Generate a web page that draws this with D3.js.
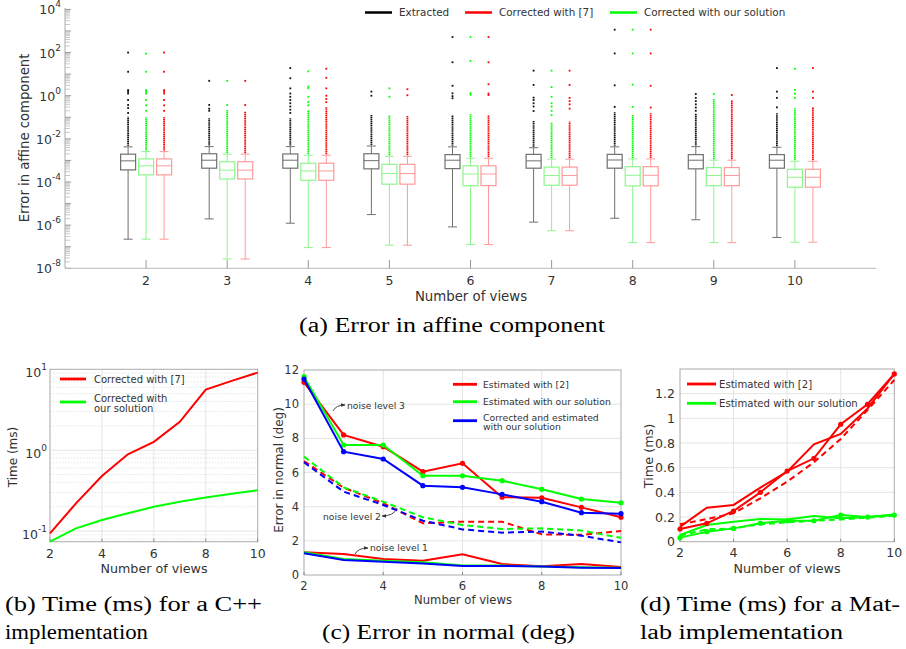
<!DOCTYPE html>
<html>
<head>
<meta charset="utf-8">
<script src="https://cdn.jsdelivr.net/npm/d3@7"></script>
<style>
  body { margin: 0; background: #fff; }
  text { font-family: "DejaVu Sans", sans-serif; fill: #333; }
  .cap { font-family: "Liberation Serif", serif; fill: #000; }
</style>
</head>
<body>
<svg id="fig" width="906" height="649"></svg>
<script>
// ---------- data ----------
const views = [2, 3, 4, 5, 6, 7, 8, 9, 10];

// (a) box plots, values are log10 of the error
const extWhiskerHigh = [-2.37, -2.36, -2.36, -2.33, -2.37, -2.41, -2.37, -2.36, -2.39];
const extQ3 = [-2.71, -2.69, -2.70, -2.69, -2.73, -2.72, -2.72, -2.73, -2.73];
const extMedian = [-3.02, -2.99, -2.99, -3.01, -2.99, -3.02, -2.98, -2.99, -2.99];
const extQ1 = [-3.44, -3.36, -3.36, -3.39, -3.38, -3.36, -3.36, -3.39, -3.36];
const extWhiskerLow = [-6.65, -5.71, -5.91, -5.51, -6.08, -5.86, -5.68, -5.75, -6.57];
const extDenseTop = [-0.97, -1.05, -1.04, -0.89, -0.89, -1.17, -0.74, -0.81, -0.81];
const extOutliers = [
  [2.0, 1.11, 0.26, 0.18, 0.1, -0.2, -0.43, -0.57, -0.8],
  [0.69, -0.43, -0.6, -0.7],
  [1.28, 0.81, 0.34, 0.1, -0.05, -0.2, -0.35, -0.5, -0.65, -0.8],
  [0.19, 0.0],
  [2.72, 1.55, 0.46, 0.11, -0.02, -0.12],
  [1.16, 0.5, -0.09, -0.2, -0.35, -0.5, -0.71],
  [3.06, 1.96, 0.48, -0.52],
  [0.08, -0.1, -0.25, -0.4, -0.55, -0.7],
  [1.28, 0.19, -0.1, -0.54]
];

const oursWhiskerHigh = [-2.59, -2.71, -2.76, -2.81, -2.90, -2.94, -2.93, -2.99, -3.04];
const oursQ3 = [-2.93, -3.06, -3.13, -3.18, -3.25, -3.31, -3.29, -3.33, -3.41];
const oursMedian = [-3.25, -3.45, -3.49, -3.61, -3.63, -3.70, -3.69, -3.70, -3.78];
const oursQ1 = [-3.67, -3.86, -3.92, -4.10, -4.17, -4.15, -4.18, -4.17, -4.24];
const oursWhiskerLow = [-6.65, -7.57, -7.04, -6.93, -6.90, -6.26, -6.81, -6.81, -6.79];
const oursDenseTop = [-1.0, -0.66, -0.66, -0.89, -0.86, -1.25, -0.89, -0.15, -0.58];
const oursOutliers = [
  [1.95, 1.11, 0.26, 0.18, 0.1, -0.2, -0.45, -0.7],
  [0.69, -0.43],
  [1.13, 0.42, 0.35, -0.05, -0.3, -0.45],
  [0.34, -0.05],
  [2.72, 1.61, 0.12, 0.05],
  [1.16, 0.4, -0.05, -0.35, -0.5, -0.7, -0.9],
  [3.06, 1.96, 0.51, -0.52],
  [0.08],
  [1.25, 0.27, 0.1, -0.1]
];

const refWhiskerHigh = [-2.59, -2.71, -2.76, -2.81, -2.90, -2.94, -2.93, -2.99, -3.04];
const refQ3 = [-2.93, -3.06, -3.13, -3.18, -3.25, -3.31, -3.29, -3.33, -3.41];
const refMedian = [-3.25, -3.45, -3.49, -3.61, -3.63, -3.70, -3.69, -3.70, -3.78];
const refQ1 = [-3.67, -3.86, -3.92, -4.10, -4.17, -4.15, -4.18, -4.17, -4.24];
const refWhiskerLow = [-6.65, -7.57, -7.04, -6.93, -6.90, -6.26, -6.81, -6.81, -6.79];
const refDenseTop = [-1.0, -0.74, -0.51, -0.94, -0.89, -1.2, -0.81, -0.2, -0.54];
const refOutliers = [
  [2.0, 1.11, 0.26, 0.18, 0.1, -0.2, -0.45, -0.7],
  [0.69, -0.43],
  [1.25, 0.83, 0.34, 0.0, -0.15, -0.3],
  [0.3, 0.02],
  [2.72, 1.55, 0.53, 0.1, 0.03],
  [1.16, 0.5, -0.1, -0.25, -0.4, -0.6],
  [3.06, 1.96, 0.46, -0.55],
  [0.03],
  [1.28, 0.19, -0.1]
];

// (b) C++ timing (ms)
const cppRef = [0.094, 0.22, 0.48, 0.89, 1.27, 2.24, 5.6, 7.2, 9.1];
const cppOurs = [0.074, 0.108, 0.137, 0.166, 0.20, 0.23, 0.26, 0.29, 0.32];

// (c) error in normal (deg)
const n3Ref = [11.28, 8.2, 7.51, 6.05, 6.54, 4.55, 4.52, 3.96, 3.38];
const n3Ours = [11.61, 7.61, 7.61, 5.81, 5.81, 5.52, 5.02, 4.45, 4.23];
const n3Corr = [11.47, 7.22, 6.79, 5.23, 5.13, 4.72, 4.29, 3.65, 3.59];
const n2Ref = [6.67, 5.11, 4.2, 3.03, 3.12, 3.12, 2.38, 2.35, 2.58];
const n2Ours = [6.93, 5.13, 4.29, 3.38, 2.93, 2.69, 2.73, 2.6, 2.18];
const n2Corr = [6.6, 4.88, 4.1, 3.18, 2.67, 2.48, 2.54, 2.3, 1.91];
const n1Ref = [1.33, 1.23, 0.94, 0.84, 1.21, 0.64, 0.51, 0.64, 0.47];
const n1Ours = [1.33, 0.94, 0.84, 0.74, 0.55, 0.55, 0.5, 0.45, 0.43];
const n1Corr = [1.27, 0.88, 0.78, 0.68, 0.53, 0.53, 0.5, 0.43, 0.41];

// (d) Matlab timing (ms)
const matRefA = [0.103, 0.149, 0.249, 0.40, 0.573, 0.676, 0.952, 1.114, 1.36];
const matRefB = [0.12, 0.276, 0.298, 0.438, 0.568, 0.79, 0.874, 1.08, 1.36];
const matRefC = [0.141, 0.184, 0.23, 0.352, 0.487, 0.644, 0.833, 1.068, 1.311];
const matOursA = [0.033, 0.081, 0.108, 0.15, 0.17, 0.17, 0.216, 0.20, 0.216];
const matOursB = [0.054, 0.135, 0.162, 0.184, 0.18, 0.208, 0.19, 0.20, 0.22];
const matOursC = [0.05, 0.10, 0.108, 0.141, 0.157, 0.17, 0.18, 0.195, 0.21];

const RED = "#ff0000", GREEN = "#00ff00", BLUE = "#0000ff";

const svg = d3.select("#fig");

////////////////////////
/// (a) BOX PLOTS ///
////////////////////////
const xA = d3.scaleLinear().domain([1, 11]).range([65, 876]);
const yA = d3.scaleLog().domain([1e-8, 1e4]).range([268.3, 9.4]);
const pA = e => yA(Math.pow(10, e));

const gA = svg.append("g");

// minor + major ticks on the y axis
const minorA = [];
for (let d = -8; d < 4; d++) for (let k = 2; k <= 9; k++) minorA.push(k * Math.pow(10, d));
gA.selectAll(".minA").data(minorA).enter().append("line")
  .attr("x1", 65).attr("x2", 70)
  .attr("y1", d => yA(d)).attr("y2", d => yA(d))
  .attr("stroke", "#bbb").attr("stroke-width", 0.8);
gA.selectAll(".majA").data(d3.range(-8, 5)).enter().append("line")
  .attr("x1", 65).attr("x2", 71)
  .attr("y1", d => pA(d)).attr("y2", d => pA(d))
  .attr("stroke", "#999");

gA.append("line").attr("x1", 65).attr("x2", 65).attr("y1", 8).attr("y2", 268.3).attr("stroke", "#aaa");
gA.append("line").attr("x1", 65).attr("x2", 876).attr("y1", 268.3).attr("y2", 268.3).attr("stroke", "#bbb");

const yLabA = gA.selectAll(".ylabA").data([-8, -6, -4, -2, 0, 2, 4]).enter().append("text")
  .attr("x", 61).attr("y", d => pA(d) + 5)
  .attr("text-anchor", "end").style("font-size", "12.5px");
yLabA.append("tspan").text("10");
yLabA.append("tspan").attr("dy", -7).style("font-size", "9px").text(d => d);

gA.selectAll(".xtA").data(views).enter().append("line")
  .attr("x1", d => xA(d)).attr("x2", d => xA(d))
  .attr("y1", 268.3).attr("y2", 260).attr("stroke", "#999");
gA.selectAll(".xlabA").data(views).enter().append("text")
  .attr("x", d => xA(d)).attr("y", 284.5)
  .attr("text-anchor", "middle").style("font-size", "12.5px").text(d => d);

gA.append("text").attr("x", 471).attr("y", 301).attr("text-anchor", "middle")
  .style("font-size", "13.3px").text("Number of views");
gA.append("text").attr("transform", "translate(29,138) rotate(-90)").attr("text-anchor", "middle")
  .style("font-size", "13.2px").text("Error in affine component");

function drawBoxes(wHigh, q3, med, q1, wLow, denseTop, outliers, offset, boxColor, dotColor) {
  const g = gA.append("g");
  views.forEach((v, i) => {
    const cx = xA(v) + offset, w = 15, cap = 4.5;
    g.append("line").attr("x1", cx).attr("x2", cx).attr("y1", pA(wHigh[i])).attr("y2", pA(q3[i]))
      .attr("stroke", boxColor);
    g.append("line").attr("x1", cx).attr("x2", cx).attr("y1", pA(q1[i])).attr("y2", pA(wLow[i]))
      .attr("stroke", boxColor);
    [wHigh[i], wLow[i]].forEach(e => {
      g.append("line").attr("x1", cx - cap).attr("x2", cx + cap).attr("y1", pA(e)).attr("y2", pA(e))
        .attr("stroke", boxColor);
    });
    g.append("rect").attr("x", cx - w / 2).attr("width", w)
      .attr("y", pA(q3[i])).attr("height", pA(q1[i]) - pA(q3[i]))
      .attr("fill", "none").attr("stroke", boxColor).attr("stroke-width", 1.2);
    g.append("line").attr("x1", cx - w / 2).attr("x2", cx + w / 2)
      .attr("y1", pA(med[i])).attr("y2", pA(med[i])).attr("stroke", boxColor);
    // densely packed outliers just above the upper whisker
    g.append("line").attr("x1", cx).attr("x2", cx)
      .attr("y1", pA(wHigh[i]) - 1).attr("y2", pA(denseTop[i]))
      .attr("stroke", dotColor).attr("stroke-width", 1.8).attr("stroke-dasharray", "1.4,0.5");
    g.selectAll(null).data(outliers[i]).enter().append("rect")
      .attr("x", cx - 0.9).attr("y", d => pA(d) - 0.9).attr("width", 1.8).attr("height", 1.8)
      .attr("fill", dotColor);
  });
}
drawBoxes(extWhiskerHigh, extQ3, extMedian, extQ1, extWhiskerLow, extDenseTop, extOutliers, -18, "#707070", "#111");
drawBoxes(oursWhiskerHigh, oursQ3, oursMedian, oursQ1, oursWhiskerLow, oursDenseTop, oursOutliers, 0, "#8ef58e", GREEN);
drawBoxes(refWhiskerHigh, refQ3, refMedian, refQ1, refWhiskerLow, refDenseTop, refOutliers, 18, "#ff9a9a", RED);

// legend (a)
const legA = [
  {label: "Extracted", color: "#000", x: 365},
  {label: "Corrected with [7]", color: RED, x: 465},
  {label: "Corrected with our solution", color: GREEN, x: 610}
];
legA.forEach(d => {
  gA.append("line").attr("x1", d.x).attr("x2", d.x + 27).attr("y1", 12.5).attr("y2", 12.5)
    .attr("stroke", d.color).attr("stroke-width", 2.5);
  gA.append("text").attr("x", d.x + 34).attr("y", 16).style("font-size", "10.4px").text(d.label);
});

svg.append("text").attr("class", "cap").attr("x", 299).attr("y", 332)
  .attr("textLength", 306).attr("lengthAdjust", "spacingAndGlyphs")
  .style("font-size", "20.5px").text("(a) Error in affine component");

///////////////////////
/// helpers ///
///////////////////////
function frame(g, x, y, xt, yt) {
  g.selectAll(null).data(xt.filter(d => d !== x.domain()[0] && d !== x.domain()[1])).enter().append("line")
    .attr("x1", d => x(d)).attr("x2", d => x(d)).attr("y1", y.range()[0]).attr("y2", y.range()[1])
    .attr("stroke", "#e4e4e4");
  g.selectAll(null).data(yt).enter().append("line")
    .attr("x1", x.range()[0]).attr("x2", x.range()[1]).attr("y1", d => y(d)).attr("y2", d => y(d))
    .attr("stroke", "#e4e4e4");
  g.append("rect").attr("x", x.range()[0]).attr("y", y.range()[1])
    .attr("width", x.range()[1] - x.range()[0]).attr("height", y.range()[0] - y.range()[1])
    .attr("fill", "none").attr("stroke", "#aaa");
  g.selectAll(null).data(xt).enter().append("line")
    .attr("x1", d => x(d)).attr("x2", d => x(d)).attr("y1", y.range()[0]).attr("y2", y.range()[0] - 3)
    .attr("stroke", "#888");
}

function series(g, x, y, vals, color, opts = {}) {
  const line = d3.line().x((d, i) => x(views[i])).y(d => y(d));
  g.append("path").datum(vals).attr("d", line).attr("fill", "none")
    .attr("stroke", color).attr("stroke-width", opts.w || 2)
    .attr("stroke-dasharray", opts.dash || null);
  if (opts.dots) {
    g.selectAll(null).data(vals).enter().append("circle")
      .attr("cx", (d, i) => x(views[i])).attr("cy", d => y(d)).attr("r", 2.6).attr("fill", color);
  }
}

function legend(g, items, x0, size) {
  items.forEach(d => {
    g.append("line").attr("x1", x0).attr("x2", x0 + d.len).attr("y1", d.y).attr("y2", d.y)
      .attr("stroke", d.color).attr("stroke-width", 2.8);
    const t = g.append("text").attr("x", x0 + d.len + d.gap).attr("y", d.ty).style("font-size", size);
    d.lines.forEach((s, k) => t.append("tspan").attr("x", x0 + d.len + d.gap).attr("dy", k ? "1.0em" : 0).text(s));
  });
}

///////////////////////
/// (b) C++ TIMING ///
///////////////////////
const gB = svg.append("g");
const xB = d3.scaleLinear().domain([2, 10]).range([50, 257.7]);
const yB = d3.scaleLog().domain([0.074, 10]).range([541.7, 369.3]);
const minorB = [];
for (let d = -2; d < 1; d++) for (let k = 2; k <= 9; k++) {
  const v = k * Math.pow(10, d);
  if (v > 0.074 && v < 10) minorB.push(v);
}
gB.selectAll(null).data(minorB).enter().append("line")
  .attr("x1", 50).attr("x2", 257.7).attr("y1", d => yB(d)).attr("y2", d => yB(d))
  .attr("stroke", "#e6e6e6").attr("stroke-dasharray", "1.5,1.5");
frame(gB, xB, yB, [2, 4, 6, 8, 10], [0.1, 1]);
gB.selectAll(null).data([2, 4, 6, 8, 10]).enter().append("text")
  .attr("x", d => xB(d)).attr("y", 557.5).attr("text-anchor", "middle").style("font-size", "12.5px").text(d => d);
const yLabB = gB.selectAll(null).data([-1, 0, 1]).enter().append("text")
  .attr("x", 47).attr("y", d => yB(Math.pow(10, d)) + 8).attr("text-anchor", "end").style("font-size", "12.5px");
yLabB.append("tspan").text("10");
yLabB.append("tspan").attr("dy", -7).style("font-size", "9px").text(d => d);
gB.append("text").attr("x", 154).attr("y", 573).attr("text-anchor", "middle").style("font-size", "12.7px").text("Number of views");
gB.append("text").attr("transform", "translate(17,457) rotate(-90)").attr("text-anchor", "middle")
  .style("font-size", "12px").text("Time (ms)");
series(gB, xB, yB, cppRef, RED);
series(gB, xB, yB, cppOurs, GREEN);
legend(gB, [
  {color: RED, y: 379, ty: 383, len: 26, gap: 8, lines: ["Corrected with [7]"]},
  {color: GREEN, y: 402, ty: 401.5, len: 26, gap: 8, lines: ["Corrected with", "our solution"]}
], 60, "10px");

svg.append("text").attr("class", "cap").attr("x", 5).attr("y", 611)
  .attr("textLength", 257).attr("lengthAdjust", "spacingAndGlyphs").style("font-size", "20.5px").text("(b) Time (ms) for a C++");
svg.append("text").attr("class", "cap").attr("x", 5).attr("y", 639)
  .attr("textLength", 143).attr("lengthAdjust", "spacingAndGlyphs").style("font-size", "20.5px").text("implementation");

///////////////////////////
/// (c) NORMAL ERROR ///
///////////////////////////
const gC = svg.append("g");
const xC = d3.scaleLinear().domain([2, 10]).range([304, 621]);
const yC = d3.scaleLinear().domain([0, 12]).range([575, 370]);
frame(gC, xC, yC, [2, 4, 6, 8, 10], [2, 4, 6, 8, 10]);
gC.selectAll(null).data([2, 4, 6, 8, 10]).enter().append("text")
  .attr("x", d => xC(d)).attr("y", 589.5).attr("text-anchor", "middle").style("font-size", "11.5px").text(d => d);
gC.selectAll(null).data([0, 2, 4, 6, 8, 10, 12]).enter().append("text")
  .attr("x", 299).attr("y", d => yC(d) + 4).attr("text-anchor", "end").style("font-size", "11.5px").text(d => d);
gC.append("text").attr("x", 463).attr("y", 603.5).attr("text-anchor", "middle").style("font-size", "11.6px").text("Number of views");
gC.append("text").attr("transform", "translate(283,470) rotate(-90)").attr("text-anchor", "middle")
  .style("font-size", "12px").text("Error in normal (deg)");

series(gC, xC, yC, n1Ref, RED);
series(gC, xC, yC, n1Ours, GREEN);
series(gC, xC, yC, n1Corr, BLUE);
series(gC, xC, yC, n2Ref, RED, {dash: "6,4"});
series(gC, xC, yC, n2Ours, GREEN, {dash: "6,4"});
series(gC, xC, yC, n2Corr, BLUE, {dash: "6,4"});
series(gC, xC, yC, n3Ref, RED, {dots: true});
series(gC, xC, yC, n3Ours, GREEN, {dots: true});
series(gC, xC, yC, n3Corr, BLUE, {dots: true});

svg.append("defs").append("marker").attr("id", "ah").attr("viewBox", "0 0 10 10")
  .attr("refX", 9).attr("refY", 5).attr("markerWidth", 5).attr("markerHeight", 5).attr("orient", "auto")
  .append("path").attr("d", "M0,1 L10,5 L0,9 Z").attr("fill", "#333");
const notes = [
  {text: "noise level 3", x: 347, y: 408.5, path: "M333,411 Q336,405 345,405"},
  {text: "noise level 2", x: 323, y: 519.5, path: "M397,508 Q394,516 382,516"},
  {text: "noise level 1", x: 370, y: 551, path: "M355,554 Q358,548 368,548"}
];
notes.forEach(n => {
  gC.append("path").attr("d", n.path).attr("fill", "none").attr("stroke", "#333")
    .attr("stroke-width", 0.9).attr("marker-end", "url(#ah)");
  gC.append("text").attr("x", n.x).attr("y", n.y).style("font-size", "9.2px").text(n.text);
});
legend(gC, [
  {color: RED, y: 384.3, ty: 387.8, len: 24, gap: 6, lines: ["Estimated with [2]"]},
  {color: GREEN, y: 401.7, ty: 405.2, len: 24, gap: 6, lines: ["Estimated with our solution"]},
  {color: BLUE, y: 420.7, ty: 420.8, len: 24, gap: 6, lines: ["Corrected and estimated", "with our solution"]}
], 453, "9.3px");

svg.append("text").attr("class", "cap").attr("x", 322).attr("y", 639)
  .attr("textLength", 253).attr("lengthAdjust", "spacingAndGlyphs").style("font-size", "20.5px").text("(c) Error in normal (deg)");

//////////////////////////
/// (d) MATLAB TIMING ///
//////////////////////////
const gD = svg.append("g");
const xD = d3.scaleLinear().domain([2, 10]).range([680, 894.3]);
const yD = d3.scaleLinear().domain([0, 1.4]).range([541.7, 369]);
const yTicksD = [0, 0.2, 0.4, 0.6, 0.8, 1, 1.2];
frame(gD, xD, yD, [2, 4, 6, 8, 10], yTicksD.slice(1));
gD.selectAll(null).data([2, 4, 6, 8, 10]).enter().append("text")
  .attr("x", d => xD(d)).attr("y", 556.5).attr("text-anchor", "middle").style("font-size", "12.5px").text(d => d);
gD.selectAll(null).data(yTicksD).enter().append("text")
  .attr("x", 675).attr("y", d => yD(d) + 4.5).attr("text-anchor", "end").style("font-size", "12.5px").text(d => d);
gD.append("text").attr("x", 787).attr("y", 573).attr("text-anchor", "middle").style("font-size", "12.7px").text("Number of views");
gD.append("text").attr("transform", "translate(653,456) rotate(-90)").attr("text-anchor", "middle")
  .style("font-size", "12.8px").text("Time (ms)");

series(gD, xD, yD, matRefC, RED, {dash: "6,4"});
series(gD, xD, yD, matOursC, GREEN, {dash: "6,4"});
series(gD, xD, yD, matRefB, RED);
series(gD, xD, yD, matOursB, GREEN);
series(gD, xD, yD, matRefA, RED, {dots: true});
series(gD, xD, yD, matOursA, GREEN, {dots: true});
legend(gD, [
  {color: RED, y: 384, ty: 388, len: 29, gap: 3, lines: ["Estimated with [2]"]},
  {color: GREEN, y: 403.3, ty: 407.3, len: 29, gap: 3, lines: ["Estimated with our solution"]}
], 687, "10.1px");

svg.append("text").attr("class", "cap").attr("x", 640).attr("y", 611)
  .attr("textLength", 260).attr("lengthAdjust", "spacingAndGlyphs").style("font-size", "20.5px").text("(d) Time (ms) for a Mat-");
svg.append("text").attr("class", "cap").attr("x", 640).attr("y", 639)
  .attr("textLength", 203).attr("lengthAdjust", "spacingAndGlyphs").style("font-size", "20.5px").text("lab implementation");
</script>
</body>
</html>
